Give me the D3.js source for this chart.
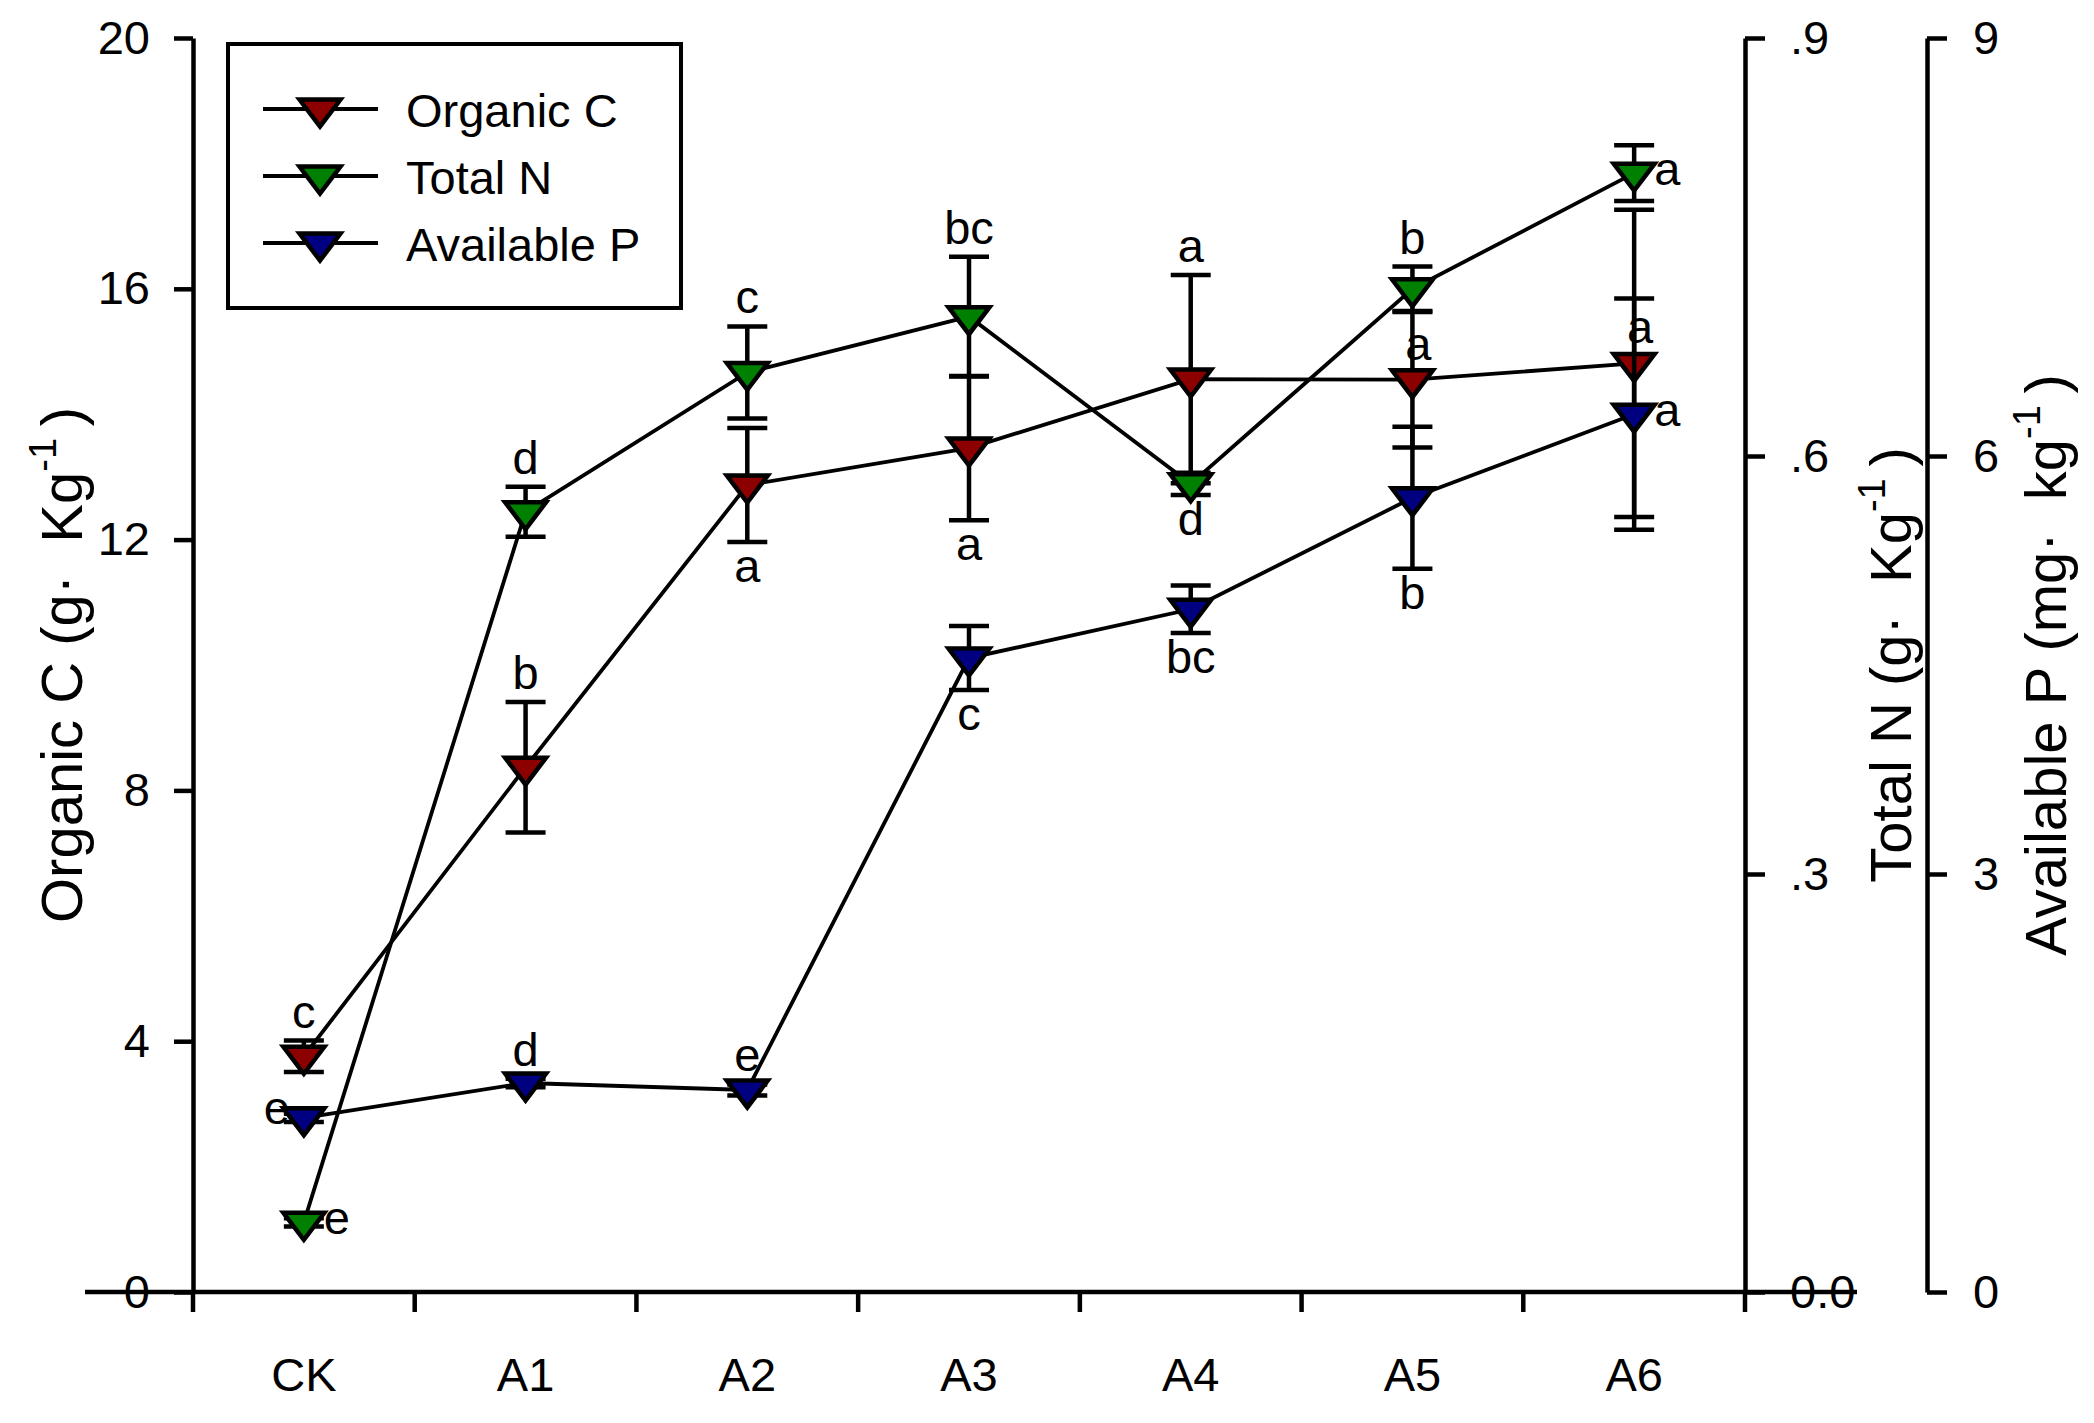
<!DOCTYPE html>
<html>
<head>
<meta charset="utf-8">
<script src="https://cdn.jsdelivr.net/npm/d3@7"></script>
<style>
  body { margin: 0; background: #fff; overflow: hidden; }
  svg { display: block; }
</style>
</head>
<body>
<div id="chart"></div>
<script>
// categories on the x axis
var categories = ["CK", "A1", "A2", "A3", "A4", "A5", "A6"];

// Organic C (g Kg-1), left axis
var organicC = [3.76, 8.37, 12.87, 13.46, 14.56, 14.55, 14.81];
var organicCErr = [0.25, 1.04, 0.91, 1.15, 1.66, 1.08, 2.45];
var organicCLetters = ["c", "b", "a", "a", "a", "a", "a"];

// Total N (g Kg-1), first right axis
var totalN = [0.050, 0.560, 0.660, 0.700, 0.580, 0.720, 0.803];
var totalNErr = [0.003, 0.018, 0.033, 0.043, 0.008, 0.016, 0.020];
var totalNLetters = ["e", "d", "c", "bc", "d", "b", "a"];

// Available P (mg kg-1), second right axis
var availP = [1.25, 1.50, 1.45, 4.55, 4.90, 5.70, 6.30];
var availPErr = [0.03, 0.03, 0.04, 0.23, 0.17, 0.51, 0.83];
var availPLetters = ["e", "d", "e", "c", "bc", "b", "a"];

// tick values
var leftTicks = [0, 4, 8, 12, 16, 20];
var nTicks = [0, 0.3, 0.6, 0.9];
var pTicks = [0, 3, 6, 9];

// where the significance letter sits relative to each point (layout only)
var cPlace = ["top", "top", "bottom", "bottom", "top", "marker", "marker"];
var nPlace = ["right", "top", "top", "top", "bottom", "top", "right"];
var pPlace = ["left", "top", "top", "bottom", "bottom", "bottom", "right"];

var width = 2094, height = 1423;
var FONT = "'Liberation Sans', Arial, Helvetica, sans-serif";

var svg = d3.select("#chart").append("svg")
    .attr("width", width)
    .attr("height", height)
    .style("font-family", FONT);

var x = d3.scaleBand().domain(categories).range([193, 1745]).paddingInner(0).paddingOuter(0);
var yC = d3.scaleLinear().domain([0, 20]).range([1292, 38]);
var yN = d3.scaleLinear().domain([0, 0.9]).range([1292, 38]);
var yP = d3.scaleLinear().domain([0, 9]).range([1292, 38]);

function cx(c) { return x(c) + x.bandwidth() / 2; }

var series = [
    { name: "Organic C", values: organicC, errs: organicCErr, letters: organicCLetters, place: cPlace, y: yC, fill: "#8c0000" },
    { name: "Total N", values: totalN, errs: totalNErr, letters: totalNLetters, place: nPlace, y: yN, fill: "#008000" },
    { name: "Available P", values: availP, errs: availPErr, letters: availPLetters, place: pPlace, y: yP, fill: "#000080" }
];

var tri = "M-20.5,-9.5L20.5,-9.5L0,17.5Z";

// ---- axes ----
function styleAxis(g) {
    g.attr("font-family", FONT).attr("font-size", 47).attr("color", "#000");
    g.selectAll("path, line").attr("stroke-width", 4.5);
}

svg.append("g")
    .attr("transform", "translate(193,0)")
    .call(d3.axisLeft(yC).tickValues(leftTicks).tickSize(19).tickSizeOuter(0).tickPadding(24).tickFormat(d3.format("d")))
    .call(styleAxis);

svg.append("g")
    .attr("transform", "translate(1745,0)")
    .call(d3.axisRight(yN).tickValues(nTicks).tickSize(20).tickSizeOuter(0).tickPadding(25)
        .tickFormat(function (d) { return d === 0 ? "0.0" : d3.format(".1f")(d).replace(/^0/, ""); }))
    .call(styleAxis);

svg.append("g")
    .attr("transform", "translate(1927,0)")
    .call(d3.axisRight(yP).tickValues(pTicks).tickSize(20).tickSizeOuter(0).tickPadding(26).tickFormat(d3.format("d")))
    .call(styleAxis);

// category labels
var xAxisG = svg.append("g")
    .attr("transform", "translate(0,1292)")
    .call(d3.axisBottom(x).tickSize(0).tickPadding(66))
    .call(styleAxis);
xAxisG.select(".domain").remove();

// x axis line (runs a bit past both end axes) and boundary ticks
var xr = x.range();
svg.append("line")
    .attr("x1", xr[0] - 108).attr("x2", xr[1] + 112)
    .attr("y1", yC(0)).attr("y2", yC(0))
    .attr("stroke", "#000").attr("stroke-width", 4.5);

var bounds = categories.map(function (c) { return x(c); }).concat([xr[1]]);
svg.append("g").selectAll("line").data(bounds).enter().append("line")
    .attr("x1", function (d) { return d; }).attr("x2", function (d) { return d; })
    .attr("y1", yC(0)).attr("y2", yC(0) + 20)
    .attr("stroke", "#000").attr("stroke-width", 4.5);

// ---- axis titles ----
function axisTitle(tx, main, sup) {
    var t = svg.append("text")
        .attr("transform", "translate(" + tx + "," + (yC(10)) + ") rotate(-90)")
        .attr("text-anchor", "middle")
        .attr("font-size", 58)
        .attr("fill", "#000");
    t.append("tspan").text(main);
    t.append("tspan").attr("font-size", 38).attr("dy", -26).text(sup);
    t.append("tspan").attr("dy", 26).text("\u2009)");
}
axisTitle(82, "Organic C (g\u00B7\u00A0\u00A0Kg", "-1");
axisTitle(1911, "Total N (g\u00B7\u00A0\u00A0Kg", "-1");
axisTitle(2066, "Available P (mg\u00B7\u00A0\u00A0kg", "-1");

// ---- series: error bars, line, markers ----
var plot = svg.append("g");

series.forEach(function (s) {
    var pts = categories.map(function (c, i) {
        return { cat: c, v: s.values[i], e: s.errs[i], letter: s.letters[i], place: s.place[i] };
    });
    var g = plot.append("g");

    var eb = g.selectAll(".eb").data(pts).enter().append("g").attr("class", "eb");
    eb.append("line")
        .attr("x1", function (d) { return cx(d.cat); }).attr("x2", function (d) { return cx(d.cat); })
        .attr("y1", function (d) { return s.y(d.v + d.e); }).attr("y2", function (d) { return s.y(d.v - d.e); })
        .attr("stroke", "#000").attr("stroke-width", 4.5);
    [1, -1].forEach(function (sign) {
        eb.append("line")
            .attr("x1", function (d) { return cx(d.cat) - 20; }).attr("x2", function (d) { return cx(d.cat) + 20; })
            .attr("y1", function (d) { return s.y(d.v + sign * d.e); }).attr("y2", function (d) { return s.y(d.v + sign * d.e); })
            .attr("stroke", "#000").attr("stroke-width", 4.5);
    });

    var line = d3.line()
        .x(function (d) { return cx(d.cat); })
        .y(function (d) { return s.y(d.v); });
    g.append("path").datum(pts)
        .attr("d", line)
        .attr("fill", "none").attr("stroke", "#000").attr("stroke-width", 3.8);

    g.selectAll(".mk").data(pts).enter().append("path")
        .attr("class", "mk")
        .attr("d", tri)
        .attr("transform", function (d) { return "translate(" + cx(d.cat) + "," + s.y(d.v) + ")"; })
        .attr("fill", s.fill).attr("stroke", "#000").attr("stroke-width", 4.5).attr("stroke-linejoin", "miter");

    s.pts = pts;
});

// significance letters on top
series.forEach(function (s) {
    plot.append("g").selectAll("text").data(s.pts).enter().append("text")
        .attr("font-size", 47)
        .attr("fill", "#000")
        .each(function (d) {
            var px = cx(d.cat), py = s.y(d.v);
            var top = s.y(d.v + d.e), bot = s.y(d.v - d.e);
            var t = d3.select(this);
            if (d.place === "top") {
                t.attr("x", px).attr("y", top - 13).attr("text-anchor", "middle");
            } else if (d.place === "bottom") {
                t.attr("x", px).attr("y", bot + 40).attr("text-anchor", "middle");
            } else if (d.place === "marker") {
                t.attr("x", px + 6).attr("y", py - 20).attr("text-anchor", "middle");
            } else if (d.place === "right") {
                t.attr("x", px + 20).attr("y", py + 12).attr("text-anchor", "start");
            } else {
                t.attr("x", px - 14).attr("y", py + 6).attr("text-anchor", "end");
            }
        })
        .text(function (d) { return d.letter; });
});

// ---- legend ----
var legend = svg.append("g");
legend.append("rect")
    .attr("x", 228).attr("y", 44).attr("width", 453).attr("height", 264)
    .attr("fill", "#fff").attr("stroke", "#000").attr("stroke-width", 4);

var rowY = d3.scalePoint().domain(series.map(function (s) { return s.name; })).range([109, 243]);
var rows = legend.selectAll(".row").data(series).enter().append("g")
    .attr("class", "row")
    .attr("transform", function (s) { return "translate(0," + rowY(s.name) + ")"; });
rows.append("line")
    .attr("x1", 263).attr("x2", 378).attr("y1", 0).attr("y2", 0)
    .attr("stroke", "#000").attr("stroke-width", 3.8);
rows.append("path")
    .attr("d", tri)
    .attr("transform", "translate(320,0)")
    .attr("fill", function (s) { return s.fill; })
    .attr("stroke", "#000").attr("stroke-width", 4.5);
rows.append("text")
    .attr("x", 406).attr("y", 18)
    .attr("font-size", 47)
    .attr("fill", "#000")
    .text(function (s) { return s.name; });
</script>
</body>
</html>
